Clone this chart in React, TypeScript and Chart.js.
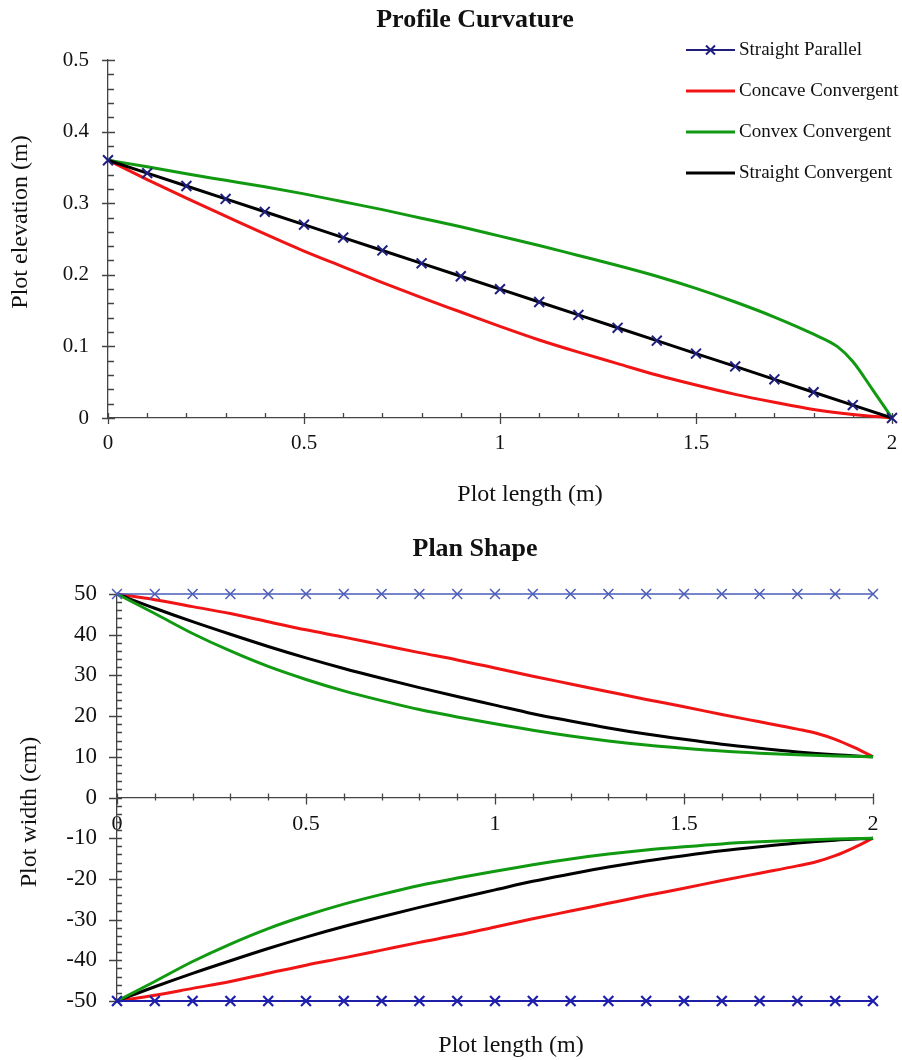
import React, { useEffect, useRef } from 'react';
import { Chart, registerables } from 'chart.js';

Chart.register(...registerables);

const FONT = "'Liberation Serif', 'Times New Roman', serif";
const AXIS = '#444444';
const TEXT = '#111111';
const NAVY = '#1f1f80';
const RED = '#f01414';
const GREEN = '#119a11';
const BLACK = '#000000';
const BLUE_LIGHT = '#4a5cb8';
const BLUE_DARK = '#1f20aa';

// ---------- Profile curvature (elevation, m) ----------
const gridX = [0, 0.1, 0.2, 0.3, 0.4, 0.5, 0.6, 0.7, 0.8, 0.9, 1, 1.1, 1.2, 1.3, 1.4, 1.5, 1.6, 1.7, 1.8, 1.9, 2];
const straightElev = [0.36, 0.342, 0.324, 0.306, 0.288, 0.27, 0.252, 0.234, 0.216, 0.198, 0.18, 0.162, 0.144, 0.126, 0.108, 0.09, 0.072, 0.054, 0.036, 0.018, 0];
const concaveElev = [0.36, 0.333, 0.307, 0.282, 0.257, 0.233, 0.211, 0.189, 0.168, 0.148, 0.128, 0.109, 0.092, 0.076, 0.06, 0.046, 0.033, 0.022, 0.012, 0.005, 0];
const convexX = [0, 0.1, 0.2, 0.3, 0.4, 0.5, 0.6, 0.7, 0.8, 0.9, 1, 1.1, 1.2, 1.3, 1.4, 1.5, 1.6, 1.7, 1.8, 1.86, 1.9, 1.95, 2];
const convexElev = [0.36, 0.351, 0.341, 0.332, 0.323, 0.313, 0.302, 0.291, 0.279, 0.267, 0.254, 0.241, 0.227, 0.213, 0.198, 0.181, 0.162, 0.141, 0.117, 0.1, 0.079, 0.04, 0];

// ---------- Plan shape (half width, cm) ----------
const parallelUpper = [50, 50, 50, 50, 50, 50, 50, 50, 50, 50, 50, 50, 50, 50, 50, 50, 50, 50, 50, 50, 50];
const parallelLower = [-50, -50, -50, -50, -50, -50, -50, -50, -50, -50, -50, -50, -50, -50, -50, -50, -50, -50, -50, -50, -50];
const concaveX = [0, 0.1, 0.2, 0.3, 0.4, 0.5, 0.6, 0.7, 0.8, 0.9, 1, 1.1, 1.2, 1.3, 1.4, 1.5, 1.6, 1.7, 1.8, 1.85, 1.9, 1.95, 2];
const concaveUpper = [50, 48.6, 46.9, 45.2, 43.2, 41.2, 39.4, 37.5, 35.6, 33.8, 31.8, 29.8, 27.9, 26.0, 24.1, 22.3, 20.4, 18.6, 16.8, 15.8, 14.3, 12.3, 10];
const concaveLower = [-50, -48.6, -46.9, -45.2, -43.2, -41.2, -39.4, -37.5, -35.6, -33.8, -31.8, -29.8, -27.9, -26.0, -24.1, -22.3, -20.4, -18.6, -16.8, -15.8, -14.3, -12.3, -10];
const straightUpper = [50, 46.5, 43.2, 40.1, 37.1, 34.3, 31.7, 29.3, 27.0, 24.8, 22.7, 20.6, 18.8, 17.1, 15.6, 14.3, 13.1, 12.1, 11.2, 10.5, 10];
const straightLower = [-50, -46.5, -43.2, -40.1, -37.1, -34.3, -31.7, -29.3, -27.0, -24.8, -22.7, -20.6, -18.8, -17.1, -15.6, -14.3, -13.1, -12.1, -11.2, -10.5, -10];
const convexUpper = [50, 45.2, 40.3, 36.0, 32.2, 29.0, 26.2, 23.8, 21.6, 19.8, 18.1, 16.5, 15.1, 13.9, 12.9, 12.1, 11.4, 10.9, 10.5, 10.2, 10];
const convexLower = [-50, -45.2, -40.3, -36.0, -32.2, -29.0, -26.2, -23.8, -21.6, -19.8, -18.1, -16.5, -15.1, -13.9, -12.9, -12.1, -11.4, -10.9, -10.5, -10.2, -10];

const legendItems = [
  { label: 'Straight Parallel', color: NAVY, width: 2, marker: true },
  { label: 'Concave Convergent', color: RED, width: 3, marker: false },
  { label: 'Convex Convergent', color: GREEN, width: 3, marker: false },
  { label: 'Straight Convergent', color: BLACK, width: 3, marker: false },
];

const pts = (xs: number[], ys: number[]) => xs.map((x, i) => ({ x, y: ys[i] }));
const fmt = (v: any) => `${+Number(v).toFixed(3)}`;

type Decor = {
  id: string;
  title: string; titlePos: [number, number];
  xTitle: string; xTitlePos: [number, number];
  yTitle: string; yTitlePos: [number, number];
  xMinor: number; xMajor: number; yMinor: number; yMajor: number;
  yTick: { majorOut: number; majorIn: number; minorIn: number };
  xTick: { majorUp: number; majorDown: number; minorUp: number; minorDown: number };
  legend?: { lineX0: number; lineX1: number; textX: number; rows: number[] };
};

function isMultiple(v: number, step: number) {
  const r = v / step;
  return Math.abs(r - Math.round(r)) < 1e-6;
}

function makeDecor(d: Decor) {
  return {
    id: d.id,
    beforeDatasetsDraw(chart: any) {
      const { ctx } = chart;
      const xs = chart.scales.x;
      const ys = chart.scales.y;
      const axisY = ys.getPixelForValue(0);
      const axisX = xs.getPixelForValue(0);
      ctx.save();
      ctx.strokeStyle = AXIS;
      ctx.lineWidth = 1.3;
      ctx.beginPath();
      const nx = Math.round((xs.max - xs.min) / d.xMinor);
      for (let i = 0; i <= nx; i++) {
        const v = xs.min + i * d.xMinor;
        const px = Math.round(xs.getPixelForValue(v)) + 0.5;
        const major = isMultiple(v, d.xMajor);
        ctx.moveTo(px, axisY - (major ? d.xTick.majorUp : d.xTick.minorUp));
        ctx.lineTo(px, axisY + (major ? d.xTick.majorDown : d.xTick.minorDown));
      }
      const ny = Math.round((ys.max - ys.min) / d.yMinor);
      for (let i = 0; i <= ny; i++) {
        const v = ys.min + i * d.yMinor;
        const py = Math.round(ys.getPixelForValue(v)) + 0.5;
        const major = isMultiple(v, d.yMajor);
        ctx.moveTo(axisX - (major ? d.yTick.majorOut : 0), py);
        ctx.lineTo(axisX + (major ? d.yTick.majorIn : d.yTick.minorIn), py);
      }
      ctx.stroke();
      ctx.restore();
    },
    afterDraw(chart: any) {
      const { ctx } = chart;
      ctx.save();
      ctx.fillStyle = TEXT;
      ctx.textAlign = 'center';
      ctx.textBaseline = 'middle';
      ctx.font = `bold 26px ${FONT}`;
      ctx.fillText(d.title, d.titlePos[0], d.titlePos[1]);
      ctx.font = `24px ${FONT}`;
      ctx.fillText(d.xTitle, d.xTitlePos[0], d.xTitlePos[1]);
      ctx.save();
      ctx.translate(d.yTitlePos[0], d.yTitlePos[1]);
      ctx.rotate(-Math.PI / 2);
      ctx.fillText(d.yTitle, 0, 0);
      ctx.restore();
      if (d.legend) {
        const L = d.legend;
        ctx.font = `19px ${FONT}`;
        ctx.textAlign = 'left';
        legendItems.forEach((it, i) => {
          const y = L.rows[i];
          ctx.strokeStyle = it.color;
          ctx.lineWidth = it.width;
          ctx.beginPath();
          ctx.moveTo(L.lineX0, y);
          ctx.lineTo(L.lineX1, y);
          ctx.stroke();
          if (it.marker) {
            const cx = (L.lineX0 + L.lineX1) / 2;
            const r = 4.5;
            ctx.lineWidth = 2;
            ctx.beginPath();
            ctx.moveTo(cx - r, y - r); ctx.lineTo(cx + r, y + r);
            ctx.moveTo(cx - r, y + r); ctx.lineTo(cx + r, y - r);
            ctx.stroke();
          }
          ctx.fillStyle = TEXT;
          ctx.fillText(it.label, L.textX, y);
        });
      }
      ctx.restore();
    },
  };
}

const tickFont = (size: number) => ({ family: FONT, size });
const noPad = (s: any) => { s.paddingLeft = 0; s.paddingRight = 0; s.paddingTop = 0; s.paddingBottom = 0; };

function profileConfig(): any {
  return {
    type: 'line',
    data: {
      datasets: [
        {
          label: 'Straight Parallel', data: pts(gridX, straightElev), showLine: false,
          pointStyle: 'crossRot', pointRadius: 7, pointHoverRadius: 7, pointBorderColor: NAVY,
          pointBackgroundColor: NAVY, pointBorderWidth: 2, borderColor: NAVY, order: 0, clip: false,
        },
        {
          label: 'Straight Convergent', data: pts(gridX, straightElev), borderColor: BLACK,
          borderWidth: 3, pointRadius: 0, tension: 0, order: 1, clip: false,
        },
        {
          label: 'Convex Convergent', data: pts(convexX, convexElev), borderColor: GREEN,
          borderWidth: 3, pointRadius: 0, cubicInterpolationMode: 'monotone', order: 2, clip: false,
        },
        {
          label: 'Concave Convergent', data: pts(gridX, concaveElev), borderColor: RED,
          borderWidth: 3, pointRadius: 0, cubicInterpolationMode: 'monotone', order: 3, clip: false,
        },
      ],
    },
    options: {
      animation: false, responsive: false, devicePixelRatio: 1, events: [],
      layout: { padding: { top: 60, right: 10, bottom: 0, left: 0 } },
      plugins: { legend: { display: false }, tooltip: { enabled: false }, title: { display: false } },
      scales: {
        x: {
          type: 'linear', min: 0, max: 2,
          afterFit: (s: any) => { s.height = 102; noPad(s); },
          grid: { display: false, drawTicks: false },
          border: { display: true, color: AXIS, width: 1.3 },
          ticks: { stepSize: 0.5, padding: 13, font: tickFont(21), color: TEXT, maxRotation: 0, autoSkip: false, callback: fmt },
        },
        y: {
          type: 'linear', min: 0, max: 0.5,
          afterFit: (s: any) => { s.width = 108; noPad(s); },
          grid: { display: false, drawTicks: false },
          border: { display: true, color: AXIS, width: 1.3 },
          ticks: { stepSize: 0.1, padding: 19, font: tickFont(21), color: TEXT, autoSkip: false, callback: fmt },
        },
      },
    },
    plugins: [
      makeDecor({
        id: 'profileDecor',
        title: 'Profile Curvature', titlePos: [475, 20],
        xTitle: 'Plot length (m)', xTitlePos: [530, 495],
        yTitle: 'Plot elevation (m)', yTitlePos: [21, 222],
        xMinor: 0.1, xMajor: 0.5, yMinor: 0.02, yMajor: 0.1,
        yTick: { majorOut: 6, majorIn: 7, minorIn: 6 },
        xTick: { majorUp: 5, majorDown: 6, minorUp: 5, minorDown: 0 },
        legend: { lineX0: 686, lineX1: 735, textX: 739, rows: [50, 91, 132, 173] },
      }),
    ],
  };
}

function planConfig(): any {
  const curve = (label: string, xs: number[], ys: number[], color: string, order: number) => ({
    label, data: pts(xs, ys), borderColor: color, borderWidth: 3, pointRadius: 0,
    cubicInterpolationMode: 'monotone', order, clip: false,
  });
  const parallel = (ys: number[], color: string, w: number) => ({
    label: 'Straight Parallel', data: pts(gridX, ys), borderColor: color, borderWidth: w,
    tension: 0, pointStyle: 'crossRot', pointRadius: 7, pointHoverRadius: 7,
    pointBorderColor: color, pointBackgroundColor: color, pointBorderWidth: w, order: 0, clip: false,
  });
  return {
    type: 'line',
    data: {
      datasets: [
        parallel(parallelUpper, BLUE_LIGHT, 1.5),
        parallel(parallelLower, BLUE_DARK, 2.2),
        curve('Convex Convergent', gridX, convexUpper, GREEN, 1),
        curve('Convex Convergent', gridX, convexLower, GREEN, 1),
        curve('Straight Convergent', gridX, straightUpper, BLACK, 2),
        curve('Straight Convergent', gridX, straightLower, BLACK, 2),
        curve('Concave Convergent', concaveX, concaveUpper, RED, 3),
        curve('Concave Convergent', concaveX, concaveLower, RED, 3),
      ],
    },
    options: {
      animation: false, responsive: false, devicePixelRatio: 1, events: [],
      layout: { padding: { top: 74, right: 29, bottom: 59, left: 0 } },
      plugins: { legend: { display: false }, tooltip: { enabled: false }, title: { display: false } },
      scales: {
        x: {
          type: 'linear', min: 0, max: 2, position: { y: 0 },
          afterFit: (s: any) => { s.height = 0; noPad(s); },
          grid: { display: false, drawTicks: false },
          border: { display: true, color: AXIS, width: 1.3 },
          ticks: { stepSize: 0.5, padding: 14, font: tickFont(22), color: TEXT, maxRotation: 0, autoSkip: false, callback: fmt },
        },
        y: {
          type: 'linear', min: -50, max: 50,
          afterFit: (s: any) => { s.width = 117; noPad(s); },
          grid: { display: false, drawTicks: false },
          border: { display: true, color: AXIS, width: 1.3 },
          ticks: { stepSize: 10, padding: 20, font: tickFont(23), color: TEXT, autoSkip: false, callback: fmt },
        },
      },
    },
    plugins: [
      makeDecor({
        id: 'planDecor',
        title: 'Plan Shape', titlePos: [475, 29],
        xTitle: 'Plot length (m)', xTitlePos: [511, 526],
        yTitle: 'Plot width (cm)', yTitlePos: [30, 292],
        xMinor: 0.1, xMajor: 0.5, yMinor: 2, yMajor: 10,
        yTick: { majorOut: 8, majorIn: 5, minorIn: 5 },
        xTick: { majorUp: 4, majorDown: 7, minorUp: 4, minorDown: 3 },
      }),
    ],
  };
}

function ChartBox({ top, width, height, build }: { top: number; width: number; height: number; build: () => any }) {
  const ref = useRef<HTMLCanvasElement | null>(null);
  useEffect(() => {
    if (!ref.current) return;
    const chart = new Chart(ref.current, build());
    return () => chart.destroy();
  }, []);
  return (
    <div style={{ position: 'absolute', left: 0, top, width, height }}>
      <canvas ref={ref} width={width} height={height} style={{ width, height, display: 'block' }} />
    </div>
  );
}

export default function App() {
  return (
    <div style={{ position: 'absolute', left: 0, top: 0, width: 902, height: 1060, background: '#ffffff' }}>
      <ChartBox top={0} width={902} height={520} build={profileConfig} />
      <ChartBox top={520} width={902} height={540} build={planConfig} />
    </div>
  );
}
